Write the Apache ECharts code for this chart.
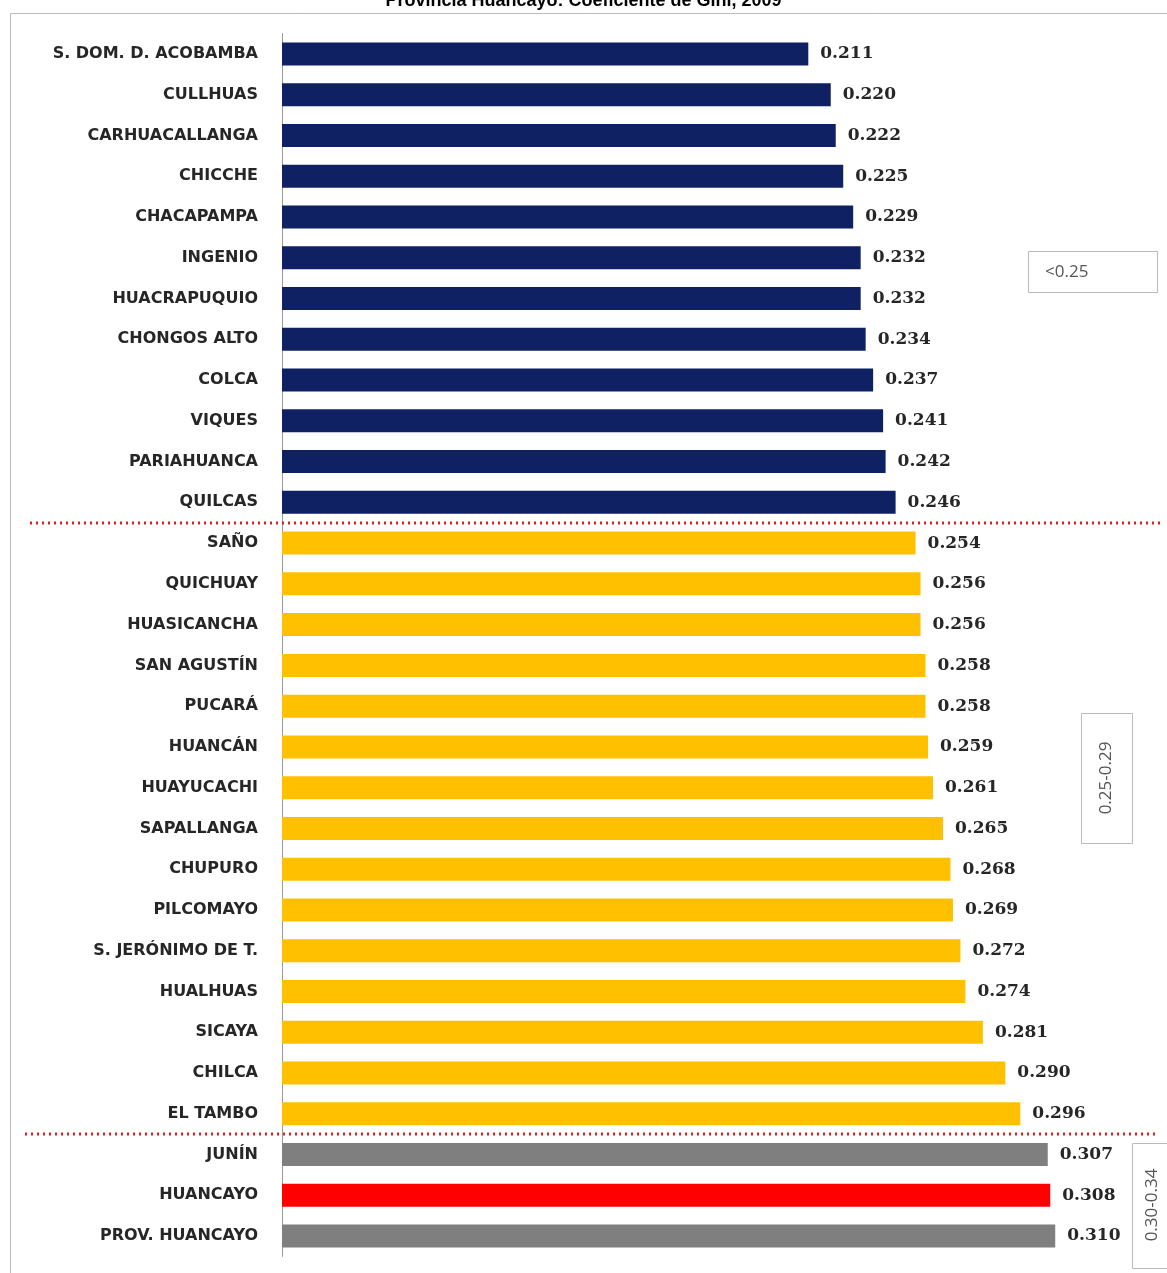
<!DOCTYPE html>
<html>
<head>
<meta charset="utf-8">
<script src="https://cdn.jsdelivr.net/npm/echarts@6/dist/echarts.min.js"></script>
<style>html,body{margin:0;padding:0;background:#fff}#c{width:1167px;height:1273px}</style>
</head>
<body>
<div id="c"></div>
<script>
const titleText = 'Provincia Huancayo: Coeficiente de Gini, 2009';
const categories = ['S. DOM. D. ACOBAMBA','CULLHUAS','CARHUACALLANGA','CHICCHE','CHACAPAMPA','INGENIO','HUACRAPUQUIO','CHONGOS ALTO','COLCA','VIQUES','PARIAHUANCA','QUILCAS','SAÑO','QUICHUAY','HUASICANCHA','SAN AGUSTÍN','PUCARÁ','HUANCÁN','HUAYUCACHI','SAPALLANGA','CHUPURO','PILCOMAYO','S. JERÓNIMO DE T.','HUALHUAS','SICAYA','CHILCA','EL TAMBO','JUNÍN','HUANCAYO','PROV. HUANCAYO'];
const giniValues = [0.211,0.220,0.222,0.225,0.229,0.232,0.232,0.234,0.237,0.241,0.242,0.246,0.254,0.256,0.256,0.258,0.258,0.259,0.261,0.265,0.268,0.269,0.272,0.274,0.281,0.290,0.296,0.307,0.308,0.310];
const groupOf = ['low','low','low','low','low','low','low','low','low','low','low','low','mid','mid','mid','mid','mid','mid','mid','mid','mid','mid','mid','mid','mid','mid','mid','ref','hl','ref'];
const groupColors = {low:'#0F2163', mid:'#FFC000', ref:'#7F7F7F', hl:'#FF0000'};
const rangeLabels = ['<0.25','0.25-0.29','0.30-0.34'];
const dividerAfter = ['QUILCAS','EL TAMBO'];

const chart = echarts.init(document.getElementById('c'));
const option = {
  animation:false,
  backgroundColor:'#fff',
  title:{text:titleText,left:'center',top:-13,textStyle:{fontFamily:'Liberation Sans',fontWeight:'bold',fontSize:18,color:'#000'}},
  grid:{left:282,right:12,top:33.6,bottom:16.6,containLabel:false},
  xAxis:{type:'value',min:0,max:0.35,show:false},
  yAxis:{type:'category',data:categories,inverse:true,
    axisLine:{show:true,lineStyle:{color:'#999',width:1}},
    axisTick:{show:false},
    axisLabel:{margin:24,fontFamily:'DejaVu Sans',fontWeight:'bold',fontSize:16,color:'#262626'}},
  series:[{type:'bar',barWidth:23,
    data:giniValues.map((v,i)=>({value:v,itemStyle:{color:groupColors[groupOf[i]]}})),
    label:{show:true,position:'right',distance:12,formatter:p=>p.value.toFixed(3),
      fontFamily:'DejaVu Serif',fontWeight:'bold',fontSize:17,color:'#262626'}}]
};
chart.setOption(option);

const yOf = c => chart.convertToPixel({yAxisIndex:0}, c);
const graphics = [
  {type:'rect',shape:{x:10.5,y:13.5,width:1200,height:1300},style:{fill:'none',stroke:'#bbb',lineWidth:1},z:-1}
];
dividerAfter.forEach((c,k)=>{
  const i = categories.indexOf(c);
  const y = Math.round((yOf(categories[i]) + yOf(categories[i+1]))/2);
  graphics.push({type:'line',shape:{x1:k===0?30:25,y1:y,x2:k===0?1162:1157,y2:y},
    style:{stroke:'#E02020',lineWidth:3,lineDash:[2,4]},z:10});
});
// range boxes
graphics.push({type:'rect',shape:{x:1028.5,y:251.5,width:129,height:41},style:{fill:'#fff',stroke:'#bbb',lineWidth:1}});
graphics.push({type:'text',x:1045,y:272,style:{text:rangeLabels[0],font:'17px "Open Sans"',fill:'#555',verticalAlign:'middle'}});
graphics.push({type:'rect',shape:{x:1081.5,y:713.5,width:51,height:130},style:{fill:'#fff',stroke:'#bbb',lineWidth:1}});
graphics.push({type:'text',x:1106,y:778,rotation:Math.PI/2,style:{text:rangeLabels[1],font:'17px "Open Sans"',fill:'#555',align:'center',verticalAlign:'middle'}});
graphics.push({type:'rect',shape:{x:1132.5,y:1143.5,width:50,height:125},style:{fill:'#fff',stroke:'#bbb',lineWidth:1}});
graphics.push({type:'text',x:1152,y:1205,rotation:Math.PI/2,style:{text:rangeLabels[2],font:'17px "Open Sans"',fill:'#555',align:'center',verticalAlign:'middle'}});
chart.setOption({graphic:graphics});
</script>
</body>
</html>
